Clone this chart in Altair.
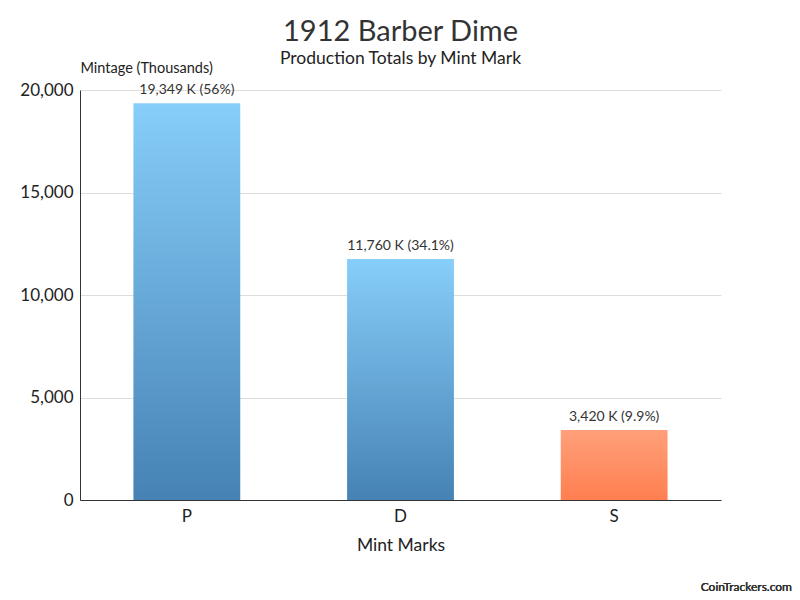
import altair as alt
import pandas as pd

mints = ["P", "D", "S"]
mintage = [19349, 11760, 3420]
labels = ["19,349 K (56%)", "11,760 K (34.1%)", "3,420 K (9.9%)"]
y_ticks = [0, 5000, 10000, 15000, 20000]

df = pd.DataFrame({"mint": mints, "value": mintage, "label": labels})

FONT = "Lato"

blue = alt.Gradient(
    gradient="linear", x1=0, x2=0, y1=0, y2=1,
    stops=[alt.GradientStop(color="#87CEFA", offset=0),
           alt.GradientStop(color="#4682B4", offset=1)],
)
orange = alt.Gradient(
    gradient="linear", x1=0, x2=0, y1=0, y2=1,
    stops=[alt.GradientStop(color="#FFA07A", offset=0),
           alt.GradientStop(color="#FF7F50", offset=1)],
)

x_enc = alt.X(
    "mint:N", sort=mints,
    scale=alt.Scale(paddingInner=0.5, paddingOuter=0.25),
    axis=alt.Axis(title="Mint Marks", labelAngle=0, labelFontSize=17, labelColor="#222",
                  titleFontSize=17.5, titleColor="#222", titleFontWeight="normal",
                  ticks=False, labelPadding=8, titlePadding=12,
                  domainColor="#333", labelFont=FONT, titleFont=FONT, grid=False),
)
y_enc = alt.Y(
    "value:Q",
    scale=alt.Scale(domain=[0, 20000], nice=False),
    axis=alt.Axis(title="Mintage (Thousands)", values=y_ticks, format=",.0f",
                  labelFontSize=17, labelColor="#222", labelFont=FONT,
                  titleFont=FONT, titleFontSize=14.5, titleFontWeight="normal", titleColor="#222",
                  titleAngle=0, titleAlign="left", titleX=0, titleY=-18,
                  titleBaseline="alphabetic",
                  ticks=False, labelPadding=7, domainColor="#333",
                  gridColor="#dddddd", grid=True),
)

base = alt.Chart(df)

bars_blue = base.transform_filter(alt.datum.mint != "S").mark_bar(color=blue).encode(x=x_enc, y=y_enc)
bars_orange = base.transform_filter(alt.datum.mint == "S").mark_bar(color=orange).encode(x=x_enc, y=y_enc)

text = base.mark_text(baseline="bottom", dy=-6, fontSize=14, color="#333", font=FONT).encode(
    x=alt.X("mint:N", sort=mints), y="value:Q", text="label:N"
)

footer = base.mark_text(
    text="CoinTrackers.com", fontSize=12, color="#333", font=FONT, align="right",
    baseline="alphabetic"
).encode(x=alt.value(712), y=alt.value(501))

chart = alt.layer(bars_blue, bars_orange, text, footer).properties(
    width=641, height=410,
    title=alt.TitleParams(
        text="1912 Barber Dime", subtitle="Production Totals by Mint Mark",
        fontSize=29, font=FONT, fontWeight="normal", color="#333",
        subtitleFontSize=17.5, subtitleFont=FONT, subtitleColor="#222",
        anchor="middle", offset=-7, subtitlePadding=3,
    ),
    autosize=alt.AutoSizeParams(type="none"),
    padding={"left": 80, "top": 90, "right": 79, "bottom": 100},
).configure(background="white").configure_view(stroke=None, strokeWidth=0)

chart.save("out.html", embed_options={"renderer": "svg", "actions": False})
